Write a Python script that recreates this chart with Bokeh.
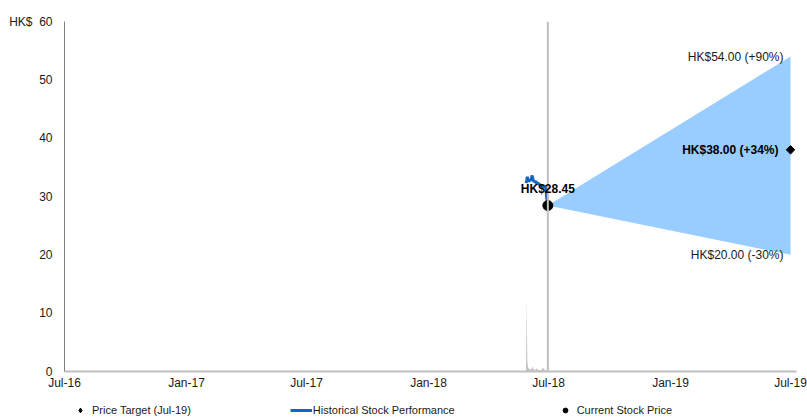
import pandas as pd
from bokeh.plotting import figure
from bokeh.layouts import column
from bokeh.models import Range1d, FixedTicker, Span, Label, Legend, LegendItem
from bokeh.embed import file_html
from bokeh.resources import INLINE

# ---------------- data ----------------
price_dates = ["2018-05-28", "2018-05-29", "2018-05-30", "2018-05-31", "2018-06-01",
               "2018-06-04", "2018-06-05", "2018-06-06", "2018-06-07", "2018-06-08",
               "2018-06-11", "2018-06-12", "2018-06-13", "2018-06-14", "2018-06-15",
               "2018-06-19", "2018-06-20", "2018-06-21", "2018-06-22", "2018-06-25",
               "2018-06-26", "2018-06-27", "2018-06-28", "2018-06-30"]
price_values = [32.3, 32.6, 33.4, 32.8, 32.6, 32.9, 32.7, 33.6, 33.3, 32.7,
                32.5, 32.6, 32.3, 32.1, 32.3, 31.9, 31.8, 32.0, 31.7, 31.8,
                31.5, 31.6, 30.0, 28.45]
volume_values = [0.0, 62.0, 9.0, 4.0, 2.5, 2.0, 1.5, 3.5, 4.0, 2.0,
                 1.5, 1.5, 3.0, 2.0, 1.5, 1.0, 1.0, 2.0, 3.5, 1.5,
                 1.0, 0.8, 0.6, 0.5]

current_date = "2018-06-30"
current_price = 28.45
target_date = "2019-07-01"
target_price = 38.00
high_target = 54.00
low_target = 20.00
currency = "HK$"

tick_dates = ["2016-07-01", "2017-01-01", "2017-07-01", "2018-01-01",
              "2018-07-01", "2019-01-01", "2019-07-01"]
tick_labels = ["Jul-16", "Jan-17", "Jul-17", "Jan-18", "Jul-18", "Jan-19", "Jul-19"]
y_ticks = [0, 10, 20, 30, 40, 50, 60]

legend_labels = ["Price Target (Jul-19)", "Historical Stock Performance", "Current Stock Price"]


def ms(d):
    return int(pd.Timestamp(d).value // 10**6)


FONT = "Liberation Sans"
BLUE = "#1565c0"
x_end = ms(tick_dates[-1]) + 9 * 86400000  # small room so end markers are not clipped

p = figure(width=807, height=392, x_axis_type="datetime",
           x_range=Range1d(ms(tick_dates[0]), x_end),
           y_range=Range1d(y_ticks[0], y_ticks[-1]),
           output_backend="svg", toolbar_location=None,
           min_border_left=64, min_border_right=11, min_border_top=21, min_border_bottom=20)
p.extra_y_ranges = {"vol": Range1d(0, 300)}
p.grid.visible = False
p.outline_line_color = None
p.background_fill_color = "white"

pd_x = [pd.Timestamp(d) for d in price_dates]

# fan
p.varea(x=[pd.Timestamp(current_date), pd.Timestamp(target_date)],
        y1=[current_price, low_target], y2=[current_price, high_target],
        fill_color="#99ccff", fill_alpha=1.0)

# volume
p.varea(x=pd_x, y1=[0] * len(volume_values), y2=volume_values, y_range_name="vol",
        fill_color="#c4c4c4", fill_alpha=1.0)

# current date line
span = Span(location=ms(current_date), dimension="height", line_color="#c0c0c0",
            line_width=2, level="glyph")
p.add_layout(span)

# price history
p.line(x=pd_x, y=price_values, line_color=BLUE, line_width=3)

# current price dot
p.scatter(x=[pd.Timestamp(current_date)], y=[current_price], size=10, color="black")
# target diamond
p.scatter(x=[pd.Timestamp(target_date)], y=[target_price], marker="square", angle=0.785,
          size=6, color="black")


def pct(v):
    return (v / current_price - 1) * 100


p.add_layout(Label(x=ms(current_date), y=current_price, text=f"{currency}{current_price:.2f}",
                   text_align="center", text_baseline="middle", y_offset=17,
                   text_font=FONT, text_font_size="12px", text_font_style="bold",
                   text_color="black"))
p.add_layout(Label(x=ms(target_date), y=high_target,
                   text=f"{currency}{high_target:.2f} ({pct(high_target):+.0f}%)",
                   text_align="right", text_baseline="middle", x_offset=-7,
                   text_font=FONT, text_font_size="12px", text_color="#1a1a1a"))
p.add_layout(Label(x=ms(target_date), y=low_target,
                   text=f"{currency}{low_target:.2f} ({pct(low_target):+.0f}%)",
                   text_align="right", text_baseline="middle", x_offset=-7,
                   text_font=FONT, text_font_size="12px", text_color="#1a1a1a"))
p.add_layout(Label(x=ms(target_date), y=target_price,
                   text=f"{currency}{target_price:.2f} ({pct(target_price):+.0f}%)",
                   text_align="right", text_baseline="middle", x_offset=-12,
                   text_font=FONT, text_font_size="12px", text_font_style="bold",
                   text_color="black"))

# axes
tick_ms = [ms(d) for d in tick_dates]
p.xaxis.ticker = FixedTicker(ticks=tick_ms)
p.xaxis.major_label_overrides = dict(zip(tick_ms, tick_labels))
p.yaxis.ticker = FixedTicker(ticks=y_ticks)
y_over = {t: str(t) for t in y_ticks}
y_over[y_ticks[-1]] = currency + "\u00a0\u00a0" + str(y_ticks[-1])
p.yaxis.major_label_overrides = y_over
for ax in (p.xaxis, p.yaxis):
    ax.major_tick_line_color = None
    ax.minor_tick_line_color = None
    ax.major_tick_out = 0
    ax.major_tick_in = 0
    ax.minor_tick_out = 0
    ax.major_label_text_font = FONT
    ax.major_label_text_font_size = "12px"
    ax.major_label_text_color = "#1a1a1a"
p.xaxis.axis_line_color = "#c0c0c0"
p.xaxis.axis_line_width = 2
p.xaxis.major_label_standoff = 4
p.yaxis.axis_line_color = "#808080"
p.yaxis.axis_line_width = 1
p.yaxis.major_label_standoff = 12

# legend strip (its frame is aligned with the main frame by the column layout)
lf = figure(width=807, height=25, x_range=Range1d(0, 1), y_range=Range1d(0, 1),
            output_backend="svg", toolbar_location=None,
            x_axis_location=None, y_axis_location=None,
            min_border=0, min_border_left=0, min_border_right=0,
            min_border_top=0, min_border_bottom=0)
lf.grid.visible = False
lf.outline_line_color = None
off = [5, 6]  # dummy points outside the strip's visible range
leg_diamond = lf.scatter(x=off[:1], y=off[:1], marker="diamond", size=6, color="black")
leg_line = lf.line(x=off, y=off, line_color=BLUE, line_width=3)
leg_dot = lf.scatter(x=off[:1], y=off[:1], size=5, color="black")
legend = Legend(items=[LegendItem(label=legend_labels[0], renderers=[leg_diamond]),
                       LegendItem(label=legend_labels[1], renderers=[leg_line]),
                       LegendItem(label=legend_labels[2], renderers=[leg_dot])],
                orientation="horizontal", location=(5, 1),
                glyph_width=22, glyph_height=12, label_height=12, label_standoff=1,
                spacing=99, padding=0, margin=0, border_line_color=None,
                background_fill_alpha=0, label_text_font=FONT,
                label_text_font_size="11px", label_text_color="#1a1a1a")
lf.add_layout(legend, "center")

layout = column(p, lf, spacing=0)
open("out.html", "w").write(file_html(layout, INLINE))
